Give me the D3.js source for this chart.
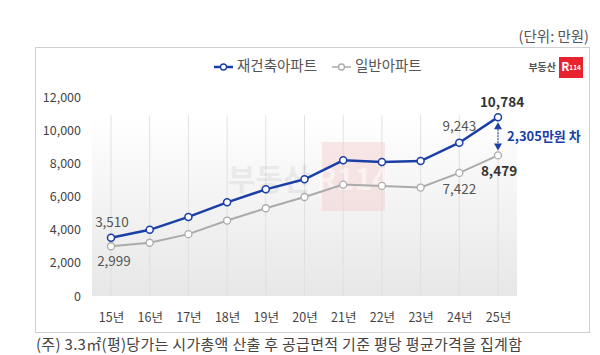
<!DOCTYPE html>
<html><head><meta charset="utf-8">
<script src="https://cdn.jsdelivr.net/npm/d3@7"></script>
<style>
html,body{margin:0;padding:0;background:#fff;}
svg{display:block;font-family:"Noto Sans CJK KR","Noto Sans",sans-serif;}
</style></head>
<body>
<svg id="c" width="600" height="355"></svg>
<script>
const categories = ["15년","16년","17년","18년","19년","20년","21년","22년","23년","24년","25년"];
const rebuildValues = [3510, 3990, 4770, 5650, 6430, 7040, 8180, 8080, 8140, 9243, 10784];
const generalValues = [2999, 3210, 3730, 4550, 5290, 5970, 6720, 6640, 6540, 7422, 8479];
const seriesNames = ["재건축아파트", "일반아파트"];
const yTicks = [0, 2000, 4000, 6000, 8000, 10000, 12000];
const labeledRebuild = {0: "3,510", 9: "9,243", 10: "10,784"};
const labeledGeneral = {0: "2,999", 9: "7,422", 10: "8,479"};
const gapText = "2,305만원 차";
const unitText = "(단위: 만원)";
const noteText = "(주) 3.3㎡(평)당가는 시가총액 산출 후 공급면적 기준 평당 평균가격을 집계함";

const blue = "#1b3fa6", gray = "#ababab";
const svg = d3.select("#c");

const x = d3.scalePoint().domain(categories).range([111, 498]);
const y = d3.scaleLinear().domain([0, 12000]).range([296, 97]);

// unit
svg.append("text").attr("x", 589).attr("y", 42).attr("text-anchor", "end")
  .attr("font-size", 14.5).attr("fill", "#555").text(unitText);

// frame
svg.append("rect").attr("x", 35.5).attr("y", 47.5).attr("width", 554).attr("height", 285)
  .attr("fill", "#fff").attr("stroke", "#d0d0d0");

// gradient plot background
const defs = svg.append("defs");
const g = defs.append("linearGradient").attr("id", "bg").attr("x1", 0).attr("y1", 0).attr("x2", 0).attr("y2", 1);
g.append("stop").attr("offset", "0%").attr("stop-color", "#ffffff");
g.append("stop").attr("offset", "100%").attr("stop-color", "#e7e7e7");
svg.append("rect").attr("x", 92).attr("y", y(10900)).attr("width", 425).attr("height", y(0) - y(10900))
  .attr("fill", "url(#bg)");

// vertical grid lines
svg.append("g").selectAll("line").data(categories).join("line")
  .attr("x1", d => x(d)).attr("x2", d => x(d)).attr("y1", y(10900)).attr("y2", y(0))
  .attr("stroke", "#e0e0e0").attr("stroke-width", 1);

// watermark
svg.append("text").attr("x", 228).attr("y", 190).attr("font-size", 30).attr("font-weight", 700)
  .attr("fill", "#000").attr("opacity", 0.05).text("부동산");
svg.append("rect").attr("x", 322).attr("y", 142).attr("width", 63).attr("height", 69)
  .attr("fill", "#f3c9c9").attr("opacity", 0.45);
svg.append("text").attr("x", 353).attr("y", 190).attr("text-anchor", "middle").attr("font-size", 30)
  .attr("font-weight", 700).attr("fill", "#fff").attr("opacity", 0.5).text("R114");

// y axis labels
const yAxis = svg.append("g").attr("transform", "translate(81,0)")
  .call(d3.axisLeft(y).tickValues(yTicks).tickSize(0).tickPadding(0).tickFormat(d3.format(",")));
yAxis.select(".domain").remove();
yAxis.selectAll("text").attr("font-size", 12.5).attr("fill", "#444")
  .attr("font-family", "\"Noto Sans CJK KR\",\"Noto Sans\",sans-serif");

// x axis labels
const xAxis = svg.append("g").attr("transform", "translate(0,313)")
  .call(d3.axisBottom(x).tickSize(0).tickPadding(0));
xAxis.select(".domain").remove();
xAxis.selectAll("text").attr("font-size", 12.5).attr("fill", "#444")
  .attr("font-family", "\"Noto Sans CJK KR\",\"Noto Sans\",sans-serif");

// lines
const line = d3.line().x((d, i) => x(categories[i])).y(d => y(d));
svg.append("path").datum(generalValues).attr("d", line).attr("fill", "none")
  .attr("stroke", gray).attr("stroke-width", 2);
svg.append("path").datum(rebuildValues).attr("d", line).attr("fill", "none")
  .attr("stroke", blue).attr("stroke-width", 2.5);
svg.append("g").selectAll("circle").data(generalValues).join("circle")
  .attr("cx", (d, i) => x(categories[i])).attr("cy", d => y(d)).attr("r", 3.5)
  .attr("fill", "#fff").attr("stroke", gray).attr("stroke-width", 1.3);
svg.append("g").selectAll("circle").data(rebuildValues).join("circle")
  .attr("cx", (d, i) => x(categories[i])).attr("cy", d => y(d)).attr("r", 3.5)
  .attr("fill", "#fff").attr("stroke", blue).attr("stroke-width", 1.5);

// data labels
function lab(idx, val, txt, dy, dx, bold) {
  svg.append("text").attr("x", x(categories[idx]) + dx).attr("y", y(val) + dy)
    .attr("text-anchor", "middle").attr("font-size", 13.5)
    .attr("font-weight", bold ? 700 : 400).attr("fill", bold ? "#333" : "#555").text(txt);
}
lab(0, rebuildValues[0], labeledRebuild[0], -11, 1, false);
lab(9, rebuildValues[9], labeledRebuild[9], -12, 0, false);
lab(10, rebuildValues[10], labeledRebuild[10], -10, 4, true);
lab(0, generalValues[0], labeledGeneral[0], 20, 3, false);
lab(9, generalValues[9], labeledGeneral[9], 21, 0, false);
lab(10, generalValues[10], labeledGeneral[10], 21, 1, true);

// gap arrow
const ax = x(categories[10]);
const yTop = y(rebuildValues[10]) + 5, yBot = y(generalValues[10]) - 5;
svg.append("line").attr("x1", ax).attr("x2", ax).attr("y1", yTop + 4).attr("y2", yBot - 4)
  .attr("stroke", blue).attr("stroke-width", 1).attr("stroke-dasharray", "2,1");
svg.append("path").attr("d", `M${ax},${yTop} L${ax-4},${yTop+7} L${ax+4},${yTop+7} Z`).attr("fill", blue);
svg.append("path").attr("d", `M${ax},${yBot} L${ax-4},${yBot-7} L${ax+4},${yBot-7} Z`).attr("fill", blue);
svg.append("text").attr("x", 507).attr("y", (yTop + yBot) / 2 + 1).attr("font-size", 13)
  .attr("font-weight", 700).attr("fill", blue).attr("dominant-baseline", "middle").text(gapText);

// legend
const leg = [
  {name: seriesNames[0], color: blue, x0: 214, w: 2.5},
  {name: seriesNames[1], color: gray, x0: 332, w: 1.5}
];
leg.forEach(l => {
  svg.append("line").attr("x1", l.x0).attr("x2", l.x0 + 19).attr("y1", 67).attr("y2", 67)
    .attr("stroke", l.color).attr("stroke-width", l.w);
  svg.append("circle").attr("cx", l.x0 + 9.5).attr("cy", 67).attr("r", 3)
    .attr("fill", "#fff").attr("stroke", l.color).attr("stroke-width", 1.3);
  svg.append("text").attr("x", l.x0 + 23).attr("y", 67).attr("dominant-baseline", "middle")
    .attr("font-size", 14.5).attr("fill", "#555").text(l.name);
});

// logo
svg.append("text").attr("x", 556).attr("y", 68).attr("text-anchor", "end").attr("dominant-baseline", "middle")
  .attr("font-size", 10).attr("font-weight", 700).attr("fill", "#555").text("부동산");
svg.append("rect").attr("x", 559).attr("y", 57).attr("width", 24).attr("height", 21).attr("fill", "#e8232f");
const lt = svg.append("text").attr("x", 571).attr("y", 68).attr("text-anchor", "middle").attr("dominant-baseline", "middle")
  .attr("font-weight", 700).attr("fill", "#fff");
lt.append("tspan").attr("font-size", 12).text("R");
lt.append("tspan").attr("font-size", 6.5).text("114");

// note
svg.append("text").attr("x", 36).attr("y", 350).attr("font-size", 15).attr("letter-spacing", 0.3)
  .attr("fill", "#444").text(noteText);
</script>
</body></html>
